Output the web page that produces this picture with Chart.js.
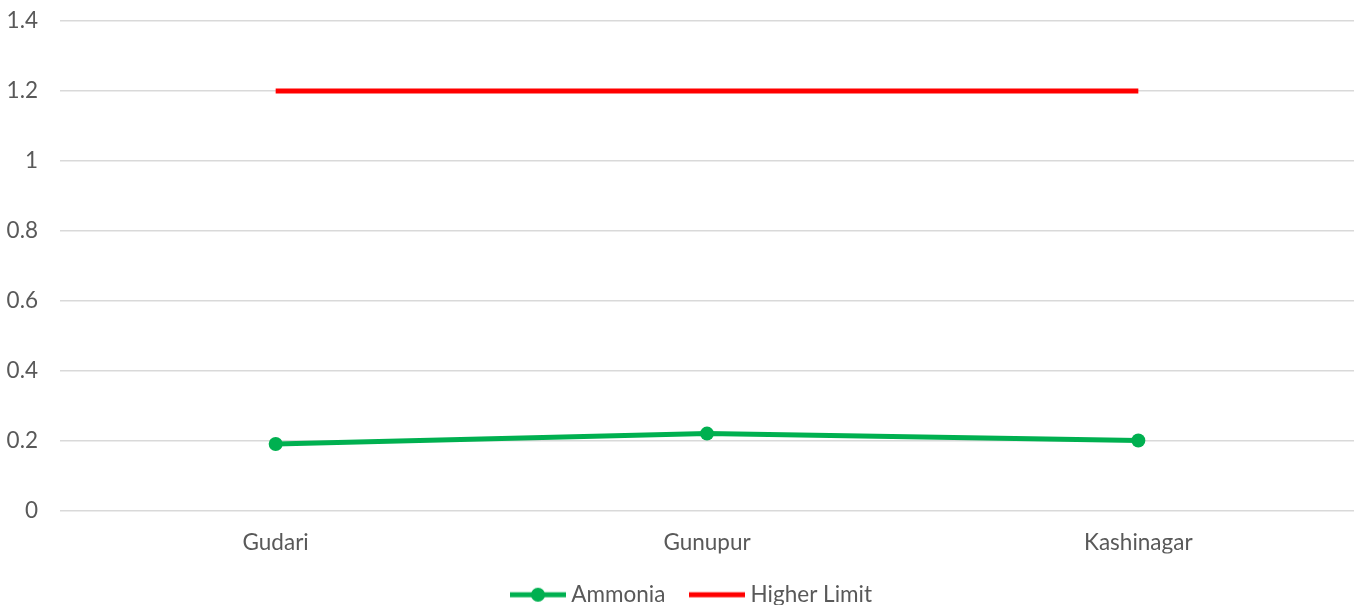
<!DOCTYPE html>
<html>
<head>
  <title>Ammonia vs Higher Limit</title>
  <script src="https://cdn.jsdelivr.net/npm/chart.js"></script>
  <style>
    body {
      background: #ffffff;
      margin: 0;
      padding: 0;
      overflow: hidden;
    }
    /* a bit taller than the window so the legend sits at the cut bottom edge */
    .chart-container {
      width: 1365px;
      height: 616px;
    }
    #myChart {
      width: 100% !important;
      height: 100% !important;
      display: block;
    }
  </style>
</head>
<body>
  <div class="chart-container">
    <canvas id="myChart"></canvas>
  </div>
  <script>
    // --- DATA ---
    const stations = ['Gudari', 'Gunupur', 'Kashinagar'];
    const ammonia = [0.19, 0.22, 0.20];
    const higherLimit = [1.2, 1.2, 1.2];
    const yTicks = [0, 0.2, 0.4, 0.6, 0.8, 1, 1.2, 1.4];

    const green = '#00B050';
    const red = '#FF0000';
    const textColor = '#595959';
    const fontFamily = 'Lato, "Open Sans", sans-serif';
    const fontSize = 22.5;

    // little legend markers: line with dot, plain line
    function makeMarker(color, withDot) {
      const c = document.createElement('canvas');
      c.width = 56;
      c.height = 16;
      const g = c.getContext('2d');
      g.strokeStyle = color;
      g.lineWidth = 5;
      g.beginPath();
      g.moveTo(0, 8);
      g.lineTo(56, 8);
      g.stroke();
      if (withDot) {
        g.fillStyle = color;
        g.beginPath();
        g.arc(28, 8, 7, 0, Math.PI * 2);
        g.fill();
      }
      return c;
    }
    const markers = [makeMarker(green, true), makeMarker(red, false)];

    // nudge the legend row to the right (Chart.js counts the trailing padding when centering)
    const legendShift = {
      id: 'legendShift',
      afterLayout(chart) {
        chart.legend.left += 17;
        chart.legend.right += 17;
      }
    };

    const ctx = document.getElementById('myChart').getContext('2d');

    const chart = new Chart(ctx, {
      type: 'line',
      data: {
        labels: stations,
        datasets: [
          {
            label: 'Ammonia',
            data: ammonia,
            borderColor: green,
            backgroundColor: green,
            borderWidth: 5,
            pointRadius: 7,
            pointBackgroundColor: green,
            pointBorderWidth: 0,
            tension: 0
          },
          {
            label: 'Higher Limit',
            data: higherLimit,
            borderColor: red,
            backgroundColor: red,
            borderWidth: 5,
            pointRadius: 0,
            tension: 0
          }
        ]
      },
      plugins: [legendShift],
      options: {
        responsive: true,
        maintainAspectRatio: false,
        animation: false,
        layout: { padding: { top: 21, right: 11, left: 0, bottom: 0 } },
        plugins: {
          tooltip: { enabled: false },
          legend: {
            position: 'bottom',
            labels: {
              color: textColor,
              font: { family: fontFamily, size: fontSize },
              usePointStyle: true,
              pointStyleWidth: 44,
              boxHeight: 21,
              padding: 30,
              generateLabels: function(chart) {
                const original = Chart.defaults.plugins.legend.labels.generateLabels(chart);
                return original.map((label, i) => ({ ...label, pointStyle: markers[i] }));
              }
            }
          }
        },
        scales: {
          x: {
            offset: true,
            afterFit: function(scale) { scale.height -= 22; },
            grid: { display: false, drawTicks: false },
            border: { display: false },
            ticks: {
              color: textColor,
              font: { family: fontFamily, size: fontSize },
              padding: 19
            }
          },
          y: {
            min: 0,
            max: 1.4,
            afterFit: function(scale) {
              scale.width = 60;
              scale.paddingTop = 14;     // only room for half a label, not the tick padding
              scale.paddingBottom = 14;
            },
            afterBuildTicks: function(scale) {
              scale.ticks = yTicks.map(v => ({ value: v }));
            },
            grid: { color: '#D9D9D9', lineWidth: 1.5, drawTicks: false },
            border: { display: false },
            ticks: {
              color: textColor,
              font: { family: fontFamily, size: fontSize },
              padding: 22,
              callback: function(value) { return String(+value.toFixed(1)); }
            }
          }
        }
      }
    });
  </script>
</body>
</html>
